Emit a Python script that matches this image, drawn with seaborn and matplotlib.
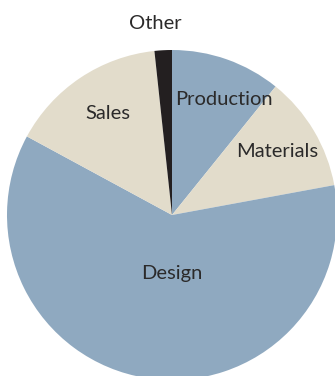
import matplotlib
matplotlib.use("Agg")
import matplotlib.pyplot as plt
import seaborn as sns

# Budget shares by department (percent), clockwise from 12 o'clock
categories = ["Production", "Materials", "Design", "Sales", "Other"]
shares = [10.8, 11.3, 60.8, 15.4, 1.7]

blue = "#8fa9c0"
beige = "#e2dccb"
dark = "#231f20"
colors = [blue, beige, blue, beige, dark]

# label anchor points in unit-radius coordinates
label_x = [0.315, 0.636, 0.0, -0.39, -0.10]
label_y = [0.698, 0.382, -0.357, 0.618, 1.158]

sns.set_theme(style="white")
plt.rcParams["font.family"] = ["Lato", "DejaVu Sans"]

fig = plt.figure(figsize=(3.35, 3.76), dpi=100)
ax = fig.add_axes([7 / 335, -4 / 376, 330 / 335, 330 / 376])

ax.pie(shares, colors=colors, startangle=90, counterclock=False,
       radius=1.0, wedgeprops=dict(linewidth=0, antialiased=True))
ax.set_xlim(-1, 1)
ax.set_ylim(-1, 1)
ax.set_aspect("equal")
ax.axis("off")

for name, x, y in zip(categories, label_x, label_y):
    ax.text(x, y, name, ha="center", va="center", fontsize=14.5,
            color="#2b2a2a", clip_on=False)

fig.savefig("out.png", dpi=100)
